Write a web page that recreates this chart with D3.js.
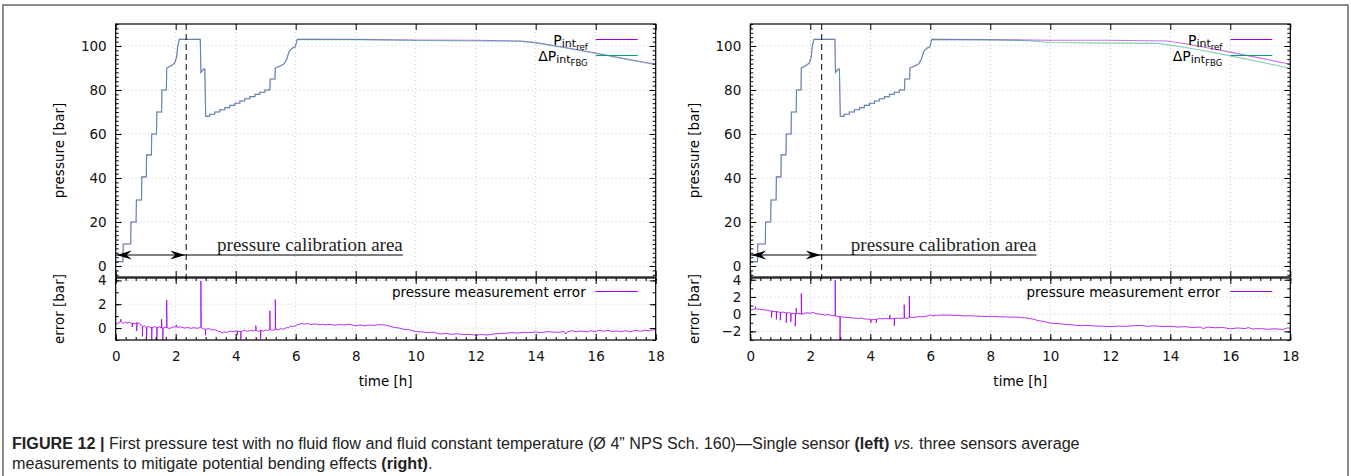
<!DOCTYPE html>
<html>
<head>
<meta charset="utf-8">
<script src="https://cdn.jsdelivr.net/npm/d3@7"></script>
<style>
  body { margin: 0; background: #fff; }
  text { font-family: "DejaVu Sans", sans-serif; }
</style>
</head>
<body>
<svg width="1351" height="476"></svg>
<script>
// time axis [h]
var timeTicks = [0, 2, 4, 6, 8, 10, 12, 14, 16, 18];
var pressureTicks = [0, 20, 40, 60, 80, 100];
var leftErrTicks = [0, 2, 4];
var rightErrTicks = [-2, 0, 2, 4];

// rising part of the test, same for both sensors: [time h, pressure bar]
var riseSteps = [
  [0, 2], [0.24, 2], [0.25, 10], [0.5, 10], [0.51, 20], [0.68, 20], [0.69, 30],
  [0.86, 30], [0.87, 40.5], [1.02, 40.5], [1.03, 50.5], [1.19, 50.5], [1.2, 60],
  [1.36, 60], [1.37, 70], [1.53, 70], [1.54, 80], [1.69, 80], [1.7, 90],
  [1.85, 91], [1.97, 92.3], [2.03, 95], [2.07, 100], [2.12, 103], [2.82, 103],
  [2.84, 88], [2.93, 89.5], [2.97, 89.5], [3.0, 68], [3.13, 68], [3.13, 69],
  [3.3, 69], [3.3, 70], [3.47, 70], [3.47, 71], [3.64, 71], [3.64, 72], [3.8, 72],
  [3.8, 73], [3.97, 73], [3.97, 74], [4.14, 74], [4.14, 75], [4.3, 75], [4.3, 76],
  [4.47, 76], [4.47, 77], [4.64, 77], [4.64, 78], [4.8, 78], [4.8, 79], [4.97, 79],
  [4.97, 80], [5.14, 80], [5.15, 85], [5.31, 85], [5.32, 90], [5.5, 91],
  [5.62, 92], [5.7, 94], [5.78, 97.5], [5.88, 99], [5.98, 99.5], [6.05, 103]
];

var leftRefTail = [[6.05, 103], [8, 103], [10, 102.7], [12, 102.6], [13.5, 102.3],
  [14, 101.6], [15, 99.3], [16, 96.8], [17, 94.2], [18, 91.7]];
var leftFbgTail = [[6.05, 103], [8, 102.9], [10, 102.5], [12, 102.3], [13.5, 102.1],
  [14, 101.4], [15, 99.1], [16, 96.6], [17, 94.0], [18, 91.5]];
var rightRefTail = [[6.05, 103], [8, 102.9], [10, 102.6], [12, 102.6], [13.9, 102.3],
  [14.5, 101], [15, 99.8], [16, 97.2], [17, 94.5], [18, 91.7]];
var rightFbgTail = [[6.05, 103], [8, 102.8], [9.3, 102.4], [10, 101.6], [12, 101.3],
  [13.6, 101.2], [14.5, 99.3], [15, 98.2], [16, 95.5], [17, 92.7], [18, 89.9]];

// pressure measurement error [bar]
var leftError = [
  [0, 0.3], [0.1, 0.45], [0.15, 0.5], [0.17, 0.75], [0.19, 0.5], [0.25, 0.38], [0.3, 0.48],
  [0.4, 0.42], [0.45, 0.5], [0.5, 0.42], [0.55, 0.4], [0.55, 0.1], [0.56, 0.42],
  [0.62, 0.36], [0.7, 0.45], [0.7, -0.25], [0.71, 0.42], [0.8, 0.4], [0.85, 0.2],
  [0.89, 0.15], [0.89, -0.7], [0.9, 0.12], [0.95, 0.2], [1.0, 0.1], [1.03, 0.08],
  [1.03, -0.75], [1.04, 0.08], [1.1, 0.15], [1.15, 0.04], [1.2, 0.05], [1.2, -1.0],
  [1.21, 0.05], [1.3, 0.12], [1.37, 0.05], [1.37, -1.0], [1.38, 0.05], [1.45, 0.1],
  [1.53, 0.02], [1.53, 0.75], [1.54, 0.02], [1.57, 0.0], [1.57, -1.0], [1.58, 0.0],
  [1.65, 0.08], [1.7, 0.03], [1.7, 2.35], [1.71, 0.03], [1.8, -0.03], [1.9, 0.08],
  [2.0, 0.1], [2.02, 0.28], [2.04, 0.06], [2.15, 0.1], [2.3, 0.0], [2.4, 0.06],
  [2.5, -0.02], [2.6, 0.03], [2.75, -0.02], [2.84, 0.1], [2.84, 3.95], [2.85, 0.05],
  [2.9, -0.05], [2.99, -0.1], [2.99, -0.6], [3.0, -0.1], [3.1, -0.04], [3.2, -0.15],
  [3.3, -0.12], [3.4, -0.25], [3.5, -0.3], [3.55, -0.45], [3.6, -0.3], [3.7, -0.38],
  [3.8, -0.25], [3.9, -0.3], [4.05, -0.25], [4.05, -0.6], [4.06, -0.25], [4.17, -0.3],
  [4.17, -0.95], [4.18, -0.3], [4.3, -0.18], [4.4, -0.28], [4.5, -0.2], [4.6, -0.25],
  [4.67, -0.18], [4.67, 0.2], [4.68, -0.2], [4.75, -0.28], [4.83, -0.2], [4.83, -0.95],
  [4.84, -0.18], [4.92, -0.25], [5.0, -0.15], [5.07, -0.2], [5.14, -0.12], [5.14, 1.45],
  [5.15, -0.12], [5.22, -0.2], [5.32, -0.1], [5.32, 2.4], [5.33, -0.1], [5.42, -0.15],
  [5.5, -0.05], [5.6, -0.1], [5.7, 0.05], [5.75, 0.0], [5.82, 0.18], [5.9, 0.12],
  [6.0, 0.22], [6.1, 0.3], [6.2, 0.38], [6.3, 0.33], [6.4, 0.38], [6.5, 0.3],
  [6.65, 0.35], [6.8, 0.28], [6.9, 0.33], [7.0, 0.27], [7.15, 0.32], [7.3, 0.24],
  [7.45, 0.3], [7.6, 0.26], [7.8, 0.31], [8.0, 0.2], [8.15, 0.26], [8.3, 0.19],
  [8.45, 0.25], [8.6, 0.22], [8.75, 0.28], [8.9, 0.27], [9.0, 0.24], [9.1, 0.18],
  [9.3, 0.05], [9.45, 0.0], [9.6, -0.1], [9.8, -0.15], [10.0, -0.3], [10.2, -0.32],
  [10.4, -0.38], [10.6, -0.35], [10.8, -0.5], [11.0, -0.45], [11.2, -0.52], [11.4, -0.48],
  [11.6, -0.55], [11.8, -0.52], [12.0, -0.6], [12.2, -0.54], [12.4, -0.58], [12.6, -0.5],
  [12.8, -0.45], [13.0, -0.43], [13.2, -0.38], [13.4, -0.42], [13.6, -0.35], [13.8, -0.38],
  [14.0, -0.33], [14.2, -0.37], [14.4, -0.3], [14.6, -0.34], [14.8, -0.35], [14.95, -0.28],
  [15.0, -0.5], [15.05, -0.32], [15.2, -0.22], [15.35, -0.3], [15.5, -0.25], [15.7, -0.32],
  [15.85, -0.22], [16.0, -0.3], [16.1, -0.18], [16.25, -0.26], [16.4, -0.2], [16.55, -0.28],
  [16.7, -0.24], [16.85, -0.3], [17.0, -0.22], [17.15, -0.32], [17.3, -0.2], [17.5, -0.26],
  [17.65, -0.18], [17.8, -0.24], [17.9, -0.15], [18, -0.12]
];
var rightError = [
  [0, 0.5], [0.1, 0.55], [0.17, 0.6], [0.17, 0.9], [0.18, 0.65], [0.25, 0.55], [0.3, 0.6],
  [0.38, 0.5], [0.45, 0.52], [0.6, 0.42], [0.71, 0.38], [0.71, -0.4], [0.72, 0.35],
  [0.8, 0.3], [0.87, 0.3], [0.87, -0.6], [0.88, 0.3], [1.0, 0.2], [1.0, -0.7],
  [1.01, 0.2], [1.1, 0.24], [1.2, 0.15], [1.2, -1.0], [1.21, 0.15], [1.28, 0.18],
  [1.35, 0.1], [1.35, -0.9], [1.36, 0.1], [1.5, 0.05], [1.5, -1.4], [1.51, 0.05],
  [1.53, 0.05], [1.53, 0.7], [1.54, 0.05], [1.6, 0.1], [1.7, 0.0], [1.7, 2.4],
  [1.71, 0.0], [1.78, 0.05], [1.85, 0.15], [2.0, 0.12], [2.1, 0.2], [2.2, 0.05],
  [2.35, 0.0], [2.5, -0.1], [2.6, -0.05], [2.7, -0.15], [2.83, -0.2], [2.83, 3.95],
  [2.84, -0.2], [2.99, -0.3], [2.99, -3.0], [3.0, -0.3], [3.15, -0.35], [3.3, -0.4],
  [3.45, -0.45], [3.6, -0.5], [3.7, -0.45], [3.8, -0.55], [3.9, -0.58], [4.0, -0.6],
  [4.02, -1.0], [4.04, -0.6], [4.1, -0.65], [4.2, -0.6], [4.2, -1.0], [4.21, -0.6],
  [4.3, -0.5], [4.4, -0.55], [4.5, -0.5], [4.65, -0.55], [4.65, -0.1], [4.66, -0.55],
  [4.8, -0.5], [4.8, -1.35], [4.81, -0.5], [4.9, -0.45], [5.0, -0.5], [5.13, -0.45],
  [5.13, 1.1], [5.14, -0.45], [5.22, -0.5], [5.3, -0.4], [5.3, 2.1], [5.31, -0.35],
  [5.45, -0.38], [5.6, -0.3], [5.75, -0.3], [5.9, -0.22], [6.0, -0.1], [6.05, -0.2],
  [6.2, -0.15], [6.35, -0.1], [6.5, -0.12], [6.65, -0.1], [6.8, -0.15], [6.95, -0.13],
  [7.1, -0.2], [7.3, -0.18], [7.5, -0.22], [7.7, -0.25], [7.9, -0.28], [8.1, -0.25],
  [8.3, -0.3], [8.5, -0.32], [8.7, -0.35], [8.85, -0.33], [9.0, -0.38], [9.15, -0.42],
  [9.3, -0.5], [9.45, -0.6], [9.6, -0.75], [9.8, -0.85], [10.0, -1.05], [10.25, -1.08],
  [10.5, -1.2], [10.75, -1.25], [11.0, -1.35], [11.25, -1.3], [11.5, -1.38], [11.75, -1.4],
  [12.0, -1.45], [12.25, -1.38], [12.5, -1.42], [12.75, -1.35], [13.0, -1.3], [13.25, -1.42],
  [13.5, -1.35], [13.75, -1.45], [14.0, -1.4], [14.25, -1.5], [14.5, -1.45], [14.75, -1.55],
  [15.0, -1.5], [15.1, -1.68], [15.25, -1.5], [15.5, -1.58], [15.75, -1.55], [16.0, -1.7],
  [16.25, -1.6], [16.5, -1.68], [16.6, -1.55], [16.75, -1.72], [17.0, -1.68], [17.25, -1.75],
  [17.5, -1.7], [17.75, -1.78], [17.9, -1.6], [18, -1.62]
];

// calibration annotation: dashed line time, arrow height, end of text line
var leftCalib = [2.35, 5, 9.57];
var rightCalib = [2.38, 5, 9.54];

var refColor = "#9400d3";
var fbgColor = "#009e73";
var errColor = "#a000e6";

var svg = d3.select("svg");

// outer frame
svg.append("path")
  .attr("d", "M3,476 L3,5 L1348,5 L1348,476")
  .attr("fill", "none")
  .attr("stroke", "#666")
  .attr("stroke-width", 1.5);

function range(a, b, step) {
  var out = [];
  for (var v = a; v <= b + 1e-9; v += step) out.push(Math.round(v * 1000) / 1000);
  return out;
}

function drawPanel(x0, refData, fbgData, errData, errDomain, errTicks, calib) {
  var top = 24, topBottom = 277, errTop = 278, errBottom = 340, w = 540;

  var xScale = d3.scaleLinear().domain([0, 18]).range([x0, x0 + w]);
  var yTop = d3.scaleLinear().domain([-5, 110]).range([topBottom, top]);
  var yErr = d3.scaleLinear().domain(errDomain).range([errBottom, errTop]);

  var g = svg.append("g");

  // grid
  var grid = g.append("g")
    .attr("stroke", "#c8c8c8")
    .attr("stroke-width", 1)
    .attr("stroke-dasharray", "1,3");
  timeTicks.slice(1, -1).forEach(function (t) {
    grid.append("line")
      .attr("x1", xScale(t)).attr("x2", xScale(t))
      .attr("y1", top).attr("y2", topBottom);
    grid.append("line")
      .attr("x1", xScale(t)).attr("x2", xScale(t))
      .attr("y1", errTop).attr("y2", errBottom);
  });
  pressureTicks.forEach(function (p) {
    grid.append("line")
      .attr("x1", x0).attr("x2", x0 + w)
      .attr("y1", yTop(p)).attr("y2", yTop(p));
  });
  errTicks.forEach(function (e) {
    grid.append("line")
      .attr("x1", x0).attr("x2", x0 + w)
      .attr("y1", yErr(e)).attr("y2", yErr(e));
  });

  // pressure curves
  var line = d3.line()
    .x(function (d) { return xScale(d[0]); })
    .y(function (d) { return yTop(d[1]); });
  var errLine = d3.line()
    .x(function (d) { return xScale(d[0]); })
    .y(function (d) { return yErr(d[1]); });

  g.append("path")
    .attr("d", line(refData))
    .attr("fill", "none")
    .attr("stroke", refColor)
    .attr("stroke-opacity", 0.55)
    .attr("stroke-width", 1.1);
  g.append("path")
    .attr("d", line(fbgData))
    .attr("fill", "none")
    .attr("stroke", fbgColor)
    .attr("stroke-opacity", 0.5)
    .attr("stroke-width", 1.1);

  // error curve
  g.append("path")
    .attr("d", errLine(errData))
    .attr("fill", "none")
    .attr("stroke", errColor)
    .attr("stroke-opacity", 0.8)
    .attr("stroke-width", 1);

  // borders
  g.append("rect")
    .attr("x", x0).attr("y", top)
    .attr("width", w).attr("height", topBottom - top)
    .attr("fill", "none").attr("stroke", "#000").attr("stroke-width", 1.2);
  g.append("rect")
    .attr("x", x0).attr("y", errTop)
    .attr("width", w).attr("height", errBottom - errTop)
    .attr("fill", "none").attr("stroke", "#000").attr("stroke-width", 1.2);

  // axes with inward ticks
  function axisGroup(axis, tx, ty) {
    var a = g.append("g")
      .attr("transform", "translate(" + tx + "," + ty + ")")
      .call(axis);
    a.select(".domain").remove();
    a.selectAll("text")
      .style("font-family", "DejaVu Sans")
      .style("font-size", "13.5px")
      .attr("fill", "#111");
    return a;
  }

  var minorTime = range(0, 18, 1 / 3);
  var fmt = d3.format("d");

  // top panel
  axisGroup(d3.axisLeft(yTop).tickValues(pressureTicks).tickSize(-6).tickPadding(9).tickFormat(fmt), x0, 0);
  axisGroup(d3.axisLeft(yTop).tickValues(range(-4, 110, 2)).tickSize(-3).tickFormat(""), x0, 0);
  axisGroup(d3.axisRight(yTop).tickValues(pressureTicks).tickSize(-6).tickFormat(""), x0 + w, 0);
  axisGroup(d3.axisRight(yTop).tickValues(range(-4, 110, 2)).tickSize(-3).tickFormat(""), x0 + w, 0);
  axisGroup(d3.axisTop(xScale).tickValues(timeTicks).tickSize(-6).tickFormat(""), 0, top);
  axisGroup(d3.axisBottom(xScale).tickValues(timeTicks).tickSize(-6).tickFormat(""), 0, topBottom);

  // error panel
  var errMinor = range(Math.ceil(errDomain[0]), Math.floor(errDomain[1]), 1);
  axisGroup(d3.axisLeft(yErr).tickValues(errTicks).tickSize(-6).tickPadding(9).tickFormat(fmt), x0, 0);
  axisGroup(d3.axisLeft(yErr).tickValues(errMinor).tickSize(-3).tickFormat(""), x0, 0);
  axisGroup(d3.axisRight(yErr).tickValues(errTicks).tickSize(-6).tickFormat(""), x0 + w, 0);
  axisGroup(d3.axisRight(yErr).tickValues(errMinor).tickSize(-3).tickFormat(""), x0 + w, 0);
  axisGroup(d3.axisTop(xScale).tickValues(timeTicks).tickSize(-6).tickFormat(""), 0, errTop);
  axisGroup(d3.axisTop(xScale).tickValues(minorTime).tickSize(-3).tickFormat(""), 0, errTop);
  axisGroup(d3.axisBottom(xScale).tickValues(timeTicks).tickSize(-6).tickPadding(11)
    .tickFormat(fmt), 0, errBottom);
  axisGroup(d3.axisBottom(xScale).tickValues(minorTime).tickSize(-3).tickFormat(""), 0, errBottom);

  // axis titles
  g.append("text")
    .attr("transform", "translate(" + (x0 - 56) + "," + (top + topBottom) / 2 + ")rotate(-90)")
    .attr("text-anchor", "middle")
    .attr("dy", "0.35em")
    .style("font-size", "13.5px")
    .text("pressure [bar]");
  g.append("text")
    .attr("transform", "translate(" + (x0 - 56) + "," + (errTop + errBottom) / 2 + ")rotate(-90)")
    .attr("text-anchor", "middle")
    .attr("dy", "0.35em")
    .style("font-size", "13.5px")
    .text("error [bar]");
  g.append("text")
    .attr("x", x0 + 270)
    .attr("y", 386)
    .attr("text-anchor", "middle")
    .style("font-size", "13.5px")
    .text("time [h]");

  // legends
  var lx1 = x0 + 480, lx2 = x0 + 522;
  g.append("line").attr("x1", lx1).attr("x2", lx2)
    .attr("y1", 39.5).attr("y2", 39.5).attr("stroke", errColor).attr("stroke-width", 1.2);
  g.append("line").attr("x1", lx1).attr("x2", lx2)
    .attr("y1", 55.5).attr("y2", 55.5).attr("stroke", fbgColor).attr("stroke-width", 1.2);
  var t1 = g.append("text").attr("x", x0 + 472).attr("y", 45).attr("text-anchor", "end")
    .style("font-size", "14px");
  t1.append("tspan").text("P");
  t1.append("tspan").attr("dy", 2).style("font-size", "11px").text("int");
  t1.append("tspan").attr("dy", 2.5).style("font-size", "8.5px").text("ref");
  var t2 = g.append("text").attr("x", x0 + 472).attr("y", 61).attr("text-anchor", "end")
    .style("font-size", "14px");
  t2.append("tspan").text("\u0394P");
  t2.append("tspan").attr("dy", 2).style("font-size", "11px").text("int");
  t2.append("tspan").attr("dy", 2.5).style("font-size", "8.5px").text("FBG");

  g.append("line").attr("x1", lx1).attr("x2", lx2)
    .attr("y1", 291.5).attr("y2", 291.5).attr("stroke", errColor).attr("stroke-width", 1.2);
  g.append("text").attr("x", x0 + 470).attr("y", 296.5).attr("text-anchor", "end")
    .style("font-size", "13.5px")
    .text("pressure measurement error");

  // calibration area
  var cx = xScale(calib[0]), ay = yTop(calib[1]);
  g.append("line")
    .attr("x1", cx).attr("x2", cx).attr("y1", top).attr("y2", topBottom + 2)
    .attr("stroke", "#000").attr("stroke-width", 1).attr("stroke-dasharray", "6,4");
  g.append("line")
    .attr("x1", x0).attr("x2", xScale(calib[2])).attr("y1", ay).attr("y2", ay)
    .attr("stroke", "#000").attr("stroke-width", 1.2);
  // arrow heads (filled, notched)
  function head(tipX, dir) {
    var L = 15, H = 4.5, N = 10;
    var pts = [[tipX, ay], [tipX - dir * L, ay - H], [tipX - dir * N, ay], [tipX - dir * L, ay + H]];
    g.append("polygon")
      .attr("points", pts.map(function (p) { return p.join(","); }).join(" "))
      .attr("fill", "#000");
  }
  head(x0 + 1, -1);
  head(cx - 1, 1);
  g.append("text")
    .attr("x", xScale(calib[2]))
    .attr("y", ay - 4.5)
    .attr("text-anchor", "end")
    .style("font-family", "Liberation Serif, serif")
    .style("font-size", "19px")
    .attr("fill", "#222")
    .text("pressure calibration area");
}

drawPanel(115.7, riseSteps.concat(leftRefTail), riseSteps.concat(leftFbgTail),
  leftError, [-1, 4.2], leftErrTicks, leftCalib);
drawPanel(750.3, riseSteps.concat(rightRefTail), riseSteps.concat(rightFbgTail),
  rightError, [-3, 4.2], rightErrTicks, rightCalib);

// caption
var cap1 = svg.append("text").attr("x", 12).attr("y", 449)
  .style("font-family", "Liberation Sans, sans-serif")
  .style("font-size", "16.15px").attr("fill", "#222");
cap1.append("tspan").style("font-weight", "bold").text("FIGURE 12 | ");
cap1.append("tspan").text("First pressure test with no fluid flow and fluid constant temperature (\u00d8 4\u201d NPS Sch. 160)\u2014Single sensor ");
cap1.append("tspan").style("font-weight", "bold").text("(left) ");
cap1.append("tspan").style("font-style", "italic").text("vs. ");
cap1.append("tspan").text("three sensors average");
var cap2 = svg.append("text").attr("x", 12).attr("y", 469)
  .style("font-family", "Liberation Sans, sans-serif")
  .style("font-size", "16.15px").attr("fill", "#222");
cap2.append("tspan").text("measurements to mitigate potential bending effects ");
cap2.append("tspan").style("font-weight", "bold").text("(right)");
cap2.append("tspan").text(".");
</script>
</body>
</html>
